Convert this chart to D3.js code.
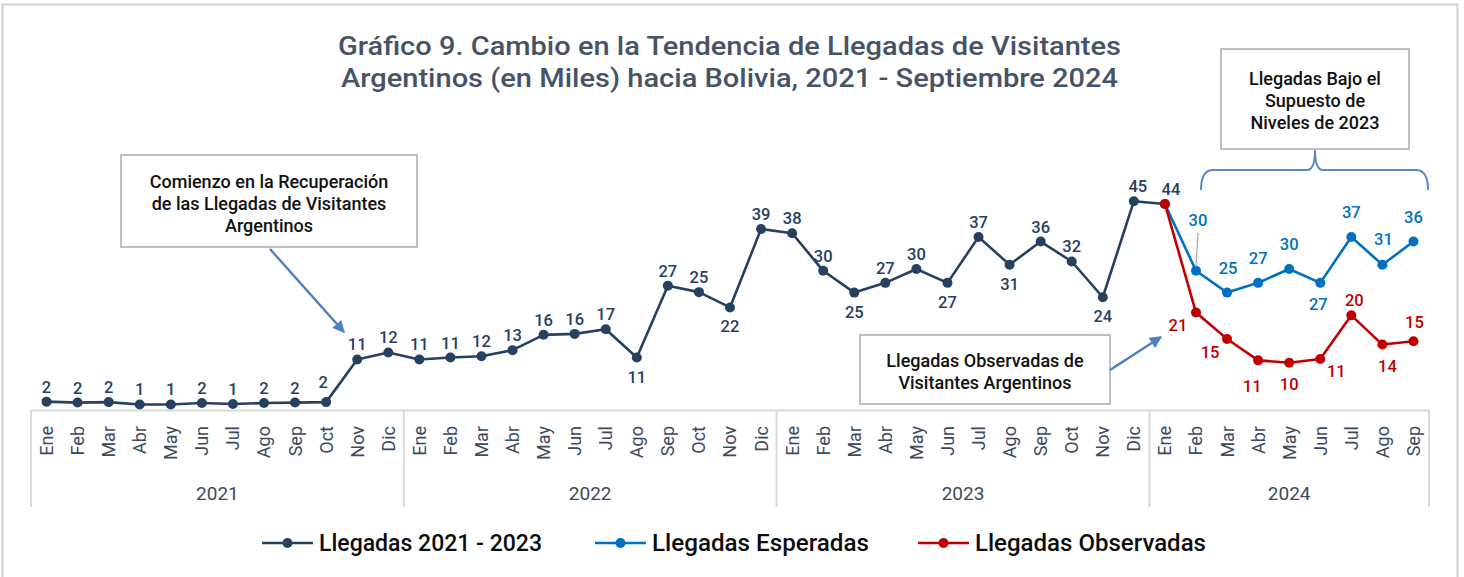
<!DOCTYPE html>
<html>
<head>
<meta charset="utf-8">
<script src="https://cdn.jsdelivr.net/npm/d3@7/dist/d3.min.js"></script>
<style>
  html, body { margin: 0; padding: 0; background: #fff; }
  svg { display: block; font-family: Roboto, "Noto Sans", sans-serif; }
</style>
</head>
<body>
<svg id="chart" width="1464" height="577"></svg>
<script>
// ---------------- DATA ----------------
const months = ["Ene","Feb","Mar","Abr","May","Jun","Jul","Ago","Sep","Oct","Nov","Dic"];
const years = ["2021","2022","2023","2024"];
const monthsPerYear = [12, 12, 12, 9];

// Llegadas 2021 - 2023 (miles), Ene 2021 .. Ene 2024
const llegadas2123 = [
  1.8, 1.6, 1.7, 1.2, 1.2, 1.5, 1.3, 1.5, 1.6, 1.7, 10.9, 12.4,
  10.9, 11.3, 11.6, 12.9, 16.2, 16.4, 17.4, 11.3, 26.8, 25.4, 22.1, 39.0,
  38.1, 30.0, 25.3, 27.4, 30.4, 27.4, 37.3, 31.3, 36.3, 32.0, 24.3, 45.0,
  44.4
];
// Llegadas Esperadas (supuesto niveles 2023), Ene .. Sep 2024
const esperadas = [44.4, 30.0, 25.3, 27.4, 30.4, 27.4, 37.3, 31.3, 36.3];
// Llegadas Observadas, Ene .. Sep 2024
const observadas = [44.4, 21.0, 15.3, 10.7, 10.2, 11.0, 20.4, 14.1, 14.8];

const titleLines = [
  "Gráfico 9. Cambio en la Tendencia de Llegadas de Visitantes",
  "Argentinos (en Miles) hacia Bolivia, 2021 - Septiembre 2024"
];
const seriesNames = ["Llegadas 2021 - 2023", "Llegadas Esperadas", "Llegadas Observadas"];

// ---------------- LAYOUT / STYLE ----------------
const C_DARK = "#26405f", C_BLUE = "#0070c0", C_RED = "#c00000";
const C_TXT = "#3b4a5e", C_GRID = "#d9d9d9", C_ARROW = "#4d7fc3";

// label offsets (dx, dy) for dark series by index; default above
const darkBelow = [19, 22, 26, 29, 31, 34];
const darkSpecial = {9: [-3, -20], 35: [4, -15], 36: [6, -15]};
const blueOffsets = [null, [2, -51], [1, -25], [0, -25], [0, -25], [-2, 21], [0, -25], [1, -26], [0, -25]];
const redOffsets = [null, [-18, 12], [-17, 13], [-6, 26], [0, 21], [16, 12], [3, -15], [5, 21], [1, -19]];

// ---------------- BUILD ----------------
const cats = [];
years.forEach((y, yi) => {
  for (let m = 0; m < monthsPerYear[yi]; m++) cats.push({key: y + "-" + m, year: y, yi, month: months[m]});
});
const keys = cats.map(c => c.key);

const svg = d3.select("#chart");

const x = d3.scaleBand().domain(keys).range([31, 1429]).paddingInner(0).paddingOuter(0);
const y = d3.scaleLinear().domain([0, 50]).range([410, 178]);
const cx = k => x(k) + x.bandwidth() / 2;

// outer frame
svg.append("rect").attr("x", 2.5).attr("y", 4.5).attr("width", 1455).attr("height", 600)
  .attr("fill", "none").attr("stroke", "#d0d0d0").attr("stroke-width", 2);

// title
svg.append("g").selectAll("text").data(titleLines).join("text")
  .attr("x", 729.5).attr("y", (d, i) => 55 + i * 32)
  .attr("text-anchor", "middle").attr("fill", "#465366")
  .attr("font-size", 26).attr("font-weight", 500)
  .attr("textLength", (d, i) => i === 0 ? 783 : 777).attr("lengthAdjust", "spacingAndGlyphs")
  .text(d => d);

// x axis
const axis = svg.append("g").attr("transform", `translate(0,${y(0)})`)
  .call(d3.axisBottom(x).tickSize(0).tickSizeOuter(0).tickFormat(k => cats[keys.indexOf(k)].month));
axis.select(".domain").attr("stroke", C_GRID).attr("stroke-width", 2);
axis.selectAll(".tick text")
  .attr("transform", "rotate(-90)").attr("x", -16).attr("y", 0).attr("dy", "0.36em")
  .attr("text-anchor", "end").attr("fill", C_TXT)
  .attr("font-size", 18).attr("font-family", "Roboto, sans-serif").attr("font-weight", 400);

// group separators
const bounds = [0];
monthsPerYear.reduce((a, n) => { bounds.push(a + n); return a + n; }, 0);
svg.append("g").selectAll("line").data(bounds).join("line")
  .attr("x1", i => i < keys.length ? x(keys[i]) : x.range()[1])
  .attr("x2", i => i < keys.length ? x(keys[i]) : x.range()[1])
  .attr("y1", y(0)).attr("y2", 507)
  .attr("stroke", C_GRID).attr("stroke-width", 2);

// year labels
svg.append("g").selectAll("text").data(years).join("text")
  .attr("x", (d, i) => {
    const a = bounds[i], b = bounds[i + 1];
    const xa = x(keys[a]);
    const xb = b < keys.length ? x(keys[b]) : x.range()[1];
    return (xa + xb) / 2;
  })
  .attr("y", 500).attr("text-anchor", "middle").attr("fill", C_TXT)
  .attr("font-size", 19).attr("font-weight", 400).text(d => d);

// lines
const line = d3.line().x(d => cx(d.k)).y(d => y(d.v));
const darkData = llegadas2123.map((v, i) => ({k: keys[i], v, i}));
const k2024 = keys.slice(36);
const blueData = esperadas.map((v, i) => ({k: k2024[i], v, i}));
const redData = observadas.map((v, i) => ({k: k2024[i], v, i}));

function drawSeries(data, color, skipMarker0) {
  const g = svg.append("g");
  g.append("path").datum(data).attr("d", line).attr("fill", "none")
    .attr("stroke", color).attr("stroke-width", 2.6).attr("stroke-linejoin", "round");
  g.selectAll("circle").data(skipMarker0 ? data.slice(1) : data).join("circle")
    .attr("cx", d => cx(d.k)).attr("cy", d => y(d.v)).attr("r", 5).attr("fill", color);
  return g;
}
drawSeries(darkData, C_DARK, false);
drawSeries(blueData, C_BLUE, true);
drawSeries(redData, C_RED, false);

// leader line for blue Feb label
{
  const d = blueData[1];
  svg.append("line").attr("x1", cx(d.k) + 2).attr("y1", y(d.v) - 38)
    .attr("x2", cx(d.k)).attr("y2", y(d.v) - 4)
    .attr("stroke", "#a6a6a6").attr("stroke-width", 1.2);
}

// data labels
function labels(data, color, offFn) {
  svg.append("g").selectAll("text").data(data.filter(d => offFn(d) !== null)).join("text")
    .attr("x", d => cx(d.k) + offFn(d)[0]).attr("y", d => y(d.v) + offFn(d)[1])
    .attr("dy", "0.36em").attr("text-anchor", "middle")
    .attr("fill", color).attr("font-size", 16.5).attr("font-weight", 500)
    .text(d => Math.round(d.v));
}
labels(darkData, C_DARK, d => darkSpecial[d.i] || (darkBelow.includes(d.i) ? [0, 19] : [0, -15]));
labels(blueData, C_BLUE, d => blueOffsets[d.i]);
labels(redData, C_RED, d => redOffsets[d.i]);

// annotations
const defs = svg.append("defs");
defs.append("marker").attr("id", "ah").attr("viewBox", "0 0 10 10").attr("refX", 9).attr("refY", 5)
  .attr("markerWidth", 6).attr("markerHeight", 5).attr("markerUnits", "strokeWidth").attr("orient", "auto")
  .append("path").attr("d", "M0,0 L10,5 L0,10 z").attr("fill", C_ARROW);

const boxes = [
  {x: 121, y: 155, w: 296, h: 92, lines: ["Comienzo en la Recuperación", "de las Llegadas de Visitantes", "Argentinos"], base: 188, step: 22},
  {x: 860, y: 335, w: 250, h: 69, lines: ["Llegadas Observadas de", "Visitantes Argentinos"], base: 367, step: 21.5},
  {x: 1221, y: 49, w: 188, h: 100, lines: ["Llegadas Bajo el", "Supuesto de", "Niveles de 2023"], base: 85, step: 22}
];
boxes.forEach(b => {
  svg.append("rect").attr("x", b.x).attr("y", b.y).attr("width", b.w).attr("height", b.h)
    .attr("fill", "#fff").attr("stroke", "#bfbfbf").attr("stroke-width", 2);
  svg.append("g").selectAll("text").data(b.lines).join("text")
    .attr("x", b.x + b.w / 2).attr("y", (d, i) => b.base + i * b.step)
    .attr("text-anchor", "middle").attr("fill", "#111")
    .attr("font-size", 18).attr("font-weight", 500).text(d => d);
});

// arrows
[[270, 249, 344, 332], [1110, 370, 1161, 337]].forEach(a => {
  svg.append("line").attr("x1", a[0]).attr("y1", a[1]).attr("x2", a[2]).attr("y2", a[3])
    .attr("stroke", C_ARROW).attr("stroke-width", 2.4).attr("marker-end", "url(#ah)");
});

// brace
svg.append("path")
  .attr("d", "M1201,190 Q1201,170 1213,170 L1307,170 Q1315,170 1315,150 Q1315,170 1323,170 L1416,170 Q1428,170 1428,190")
  .attr("fill", "none").attr("stroke", "#5b8ac9").attr("stroke-width", 2);

// legend
const legendItems = [
  {name: seriesNames[0], color: C_DARK, x: 262, w: 223},
  {name: seriesNames[1], color: C_BLUE, x: 595, w: 217},
  {name: seriesNames[2], color: C_RED, x: 918, w: 231}
];
const lg = svg.append("g").selectAll("g").data(legendItems).join("g")
  .attr("transform", d => `translate(${d.x},543)`);
lg.append("line").attr("x1", 0).attr("x2", 51).attr("stroke", d => d.color).attr("stroke-width", 2.6);
lg.append("circle").attr("cx", 25.5).attr("r", 5).attr("fill", d => d.color);
lg.append("text").attr("x", 57).attr("dy", "0.36em").attr("fill", "#0d0d0d")
  .attr("font-size", 23).attr("font-weight", 500)
  .attr("textLength", d => d.w).attr("lengthAdjust", "spacingAndGlyphs").text(d => d.name);
</script>
</body>
</html>
